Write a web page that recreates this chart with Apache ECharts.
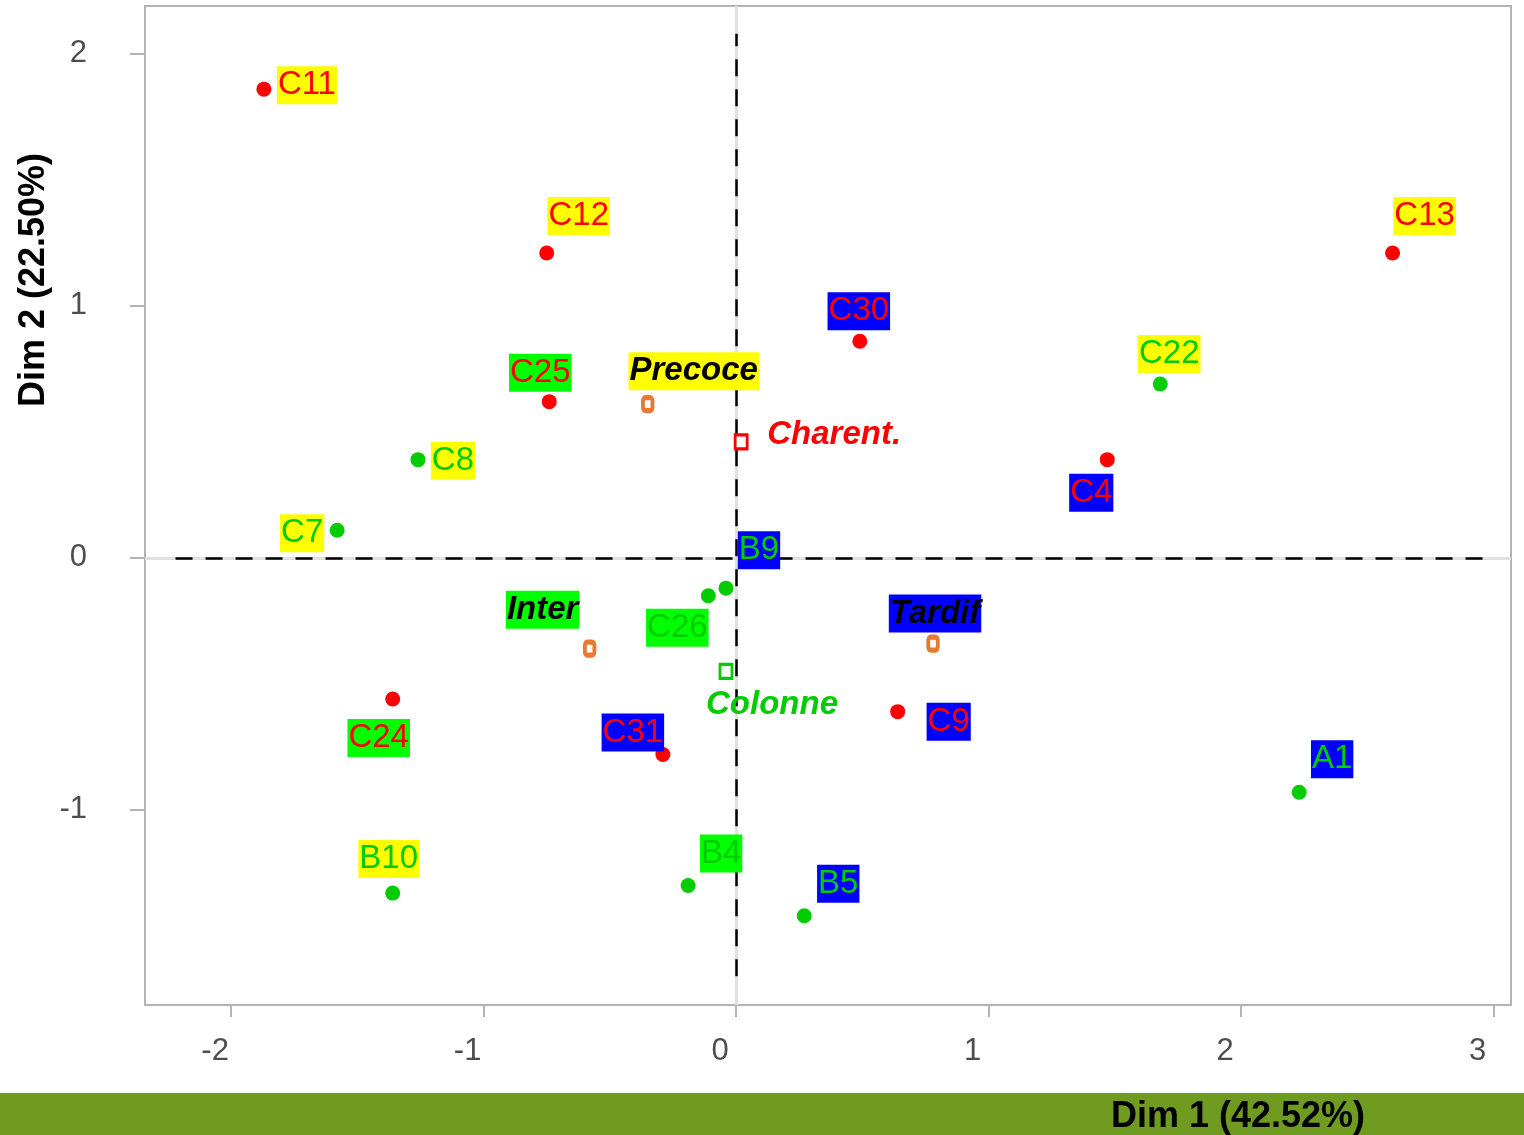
<!DOCTYPE html>
<html>
<head>
<meta charset="utf-8">
<script src="https://cdn.jsdelivr.net/npm/echarts@6/dist/echarts.min.js"></script>
<style>
  html, body { margin: 0; padding: 0; background: #fff; }
  #chart { width: 1524px; height: 1135px; }
</style>
</head>
<body>
<div id="chart"></div>
<script>
// individus (points actifs)
const indNames = ['C11', 'C12', 'C13', 'C30', 'C22', 'C25', 'C8', 'C4', 'C7',
                  'B9', 'C26', 'C24', 'C9', 'C31', 'A1', 'B4', 'B5', 'B10'];
const indDim1 = [-1.87, -0.75, 2.60, 0.49, 1.68, -0.74, -1.26, 1.47, -1.58,
                 -0.04, -0.11, -1.36, 0.64, -0.29, 2.23, -0.19, 0.27, -1.36];
const indDim2 = [1.86, 1.21, 1.21, 0.86, 0.69, 0.62, 0.39, 0.39, 0.11,
                 -0.12, -0.15, -0.56, -0.61, -0.78, -0.93, -1.30, -1.42, -1.33];
// origine (couleur du point / texte) et précocité (fond de l'étiquette)
const indOrigine = ['Charent.', 'Charent.', 'Charent.', 'Charent.', 'Colonne', 'Charent.', 'Colonne', 'Charent.', 'Colonne',
                    'Colonne', 'Colonne', 'Charent.', 'Charent.', 'Charent.', 'Colonne', 'Colonne', 'Colonne', 'Colonne'];
const indPrecocite = ['Precoce', 'Precoce', 'Precoce', 'Tardif', 'Precoce', 'Inter', 'Precoce', 'Tardif', 'Precoce',
                      'Tardif', 'Inter', 'Inter', 'Tardif', 'Tardif', 'Tardif', 'Inter', 'Tardif', 'Precoce'];

// modalités supplémentaires
const suppNames = ['Precoce', 'Charent.', 'Inter', 'Colonne', 'Tardif'];
const suppDim1 = [-0.35, 0.02, -0.58, -0.04, 0.78];
const suppDim2 = [0.61, 0.46, -0.36, -0.45, -0.34];

// étendue des lignes pointillées
const refX = [-2.22, 2.98];
const refY = [-1.66, 2.08];

// couleurs
const couleurOrigine = { 'Charent.': '#ff0000', 'Colonne': '#00cc00' };
const fondPrecocite = { 'Precoce': '#ffff00', 'Inter': '#00ff00', 'Tardif': '#0000ff' };

// décalage des étiquettes (style repel), en pixels
const decalage = {
  C11: [43, -4], C12: [32, -37], C13: [32, -37], C30: [-1, -30], C22: [9, -30],
  C25: [-9, -29], C8: [35, 1], C4: [-16, 33], C7: [-35, 3], B9: [33, -38],
  C26: [-31, 32], C24: [-14, 39], C9: [51, 10], C31: [-30, -22], A1: [33, -33],
  B4: [33, -32], B5: [34, -32], B10: [-4, -34],
  Precoce: [46, -33], 'Charent.': [93, -7], Inter: [-47, -39], Colonne: [46, 34], Tardif: [2, -30]
};

const fontFam = '"Liberation Sans", Arial, Helvetica, sans-serif';

const indData = indNames.map((n, i) => ({
  name: n,
  value: [indDim1[i], indDim2[i]],
  itemStyle: { color: couleurOrigine[indOrigine[i]], opacity: 1 },
  label: {
    offset: decalage[n],
    color: couleurOrigine[indOrigine[i]],
    backgroundColor: fondPrecocite[indPrecocite[i]]
  }
}));

const suppData = suppNames.map((n, i) => {
  const isOrigine = couleurOrigine[n] !== undefined;
  return {
    name: n,
    value: [suppDim1[i], suppDim2[i]],
    symbol: isOrigine ? 'rect' : 'roundRect',
    symbolSize: isOrigine ? [12, 14] : [9.5, 13],
    itemStyle: {
      color: '#ffffff',
      opacity: 1,
      borderColor: isOrigine ? couleurOrigine[n] : '#e8792e',
      borderWidth: isOrigine ? 3 : 4.5
    },
    label: {
      offset: decalage[n],
      color: isOrigine ? couleurOrigine[n] : '#000000',
      backgroundColor: isOrigine ? 'transparent' : fondPrecocite[n],
      fontWeight: 'bold',
      fontStyle: 'italic'
    }
  };
});

const chart = echarts.init(document.getElementById('chart'));

const etiquette = {
  show: true,
  position: 'inside',
  formatter: '{b}',
  fontSize: 33,
  fontFamily: fontFam,
  lineHeight: 34,
  padding: [2, 1, 2, 1],
  align: 'center',
  verticalAlign: 'middle'
};

const option = {
  backgroundColor: '#ffffff',
  animation: false,
  grid: {
    left: 145, right: 13, top: 6, bottom: 130,
    show: true, borderColor: '#b3b3b3', borderWidth: 2, backgroundColor: '#ffffff'
  },
  xAxis: {
    type: 'value',
    min: -2.341, max: 3.069,
    axisLine: { show: false, onZero: false },
    splitLine: { show: false },
    axisTick: { show: true, customValues: [-2, -1, 0, 1, 2, 3], length: 12, lineStyle: { color: '#b3b3b3', width: 2 } },
    axisLabel: {
      customValues: [-2, -1, 0, 1, 2, 3],
      color: '#4d4d4d', fontSize: 31, fontFamily: fontFam, margin: 31,
      padding: [0, 32, 0, 0]
    }
  },
  yAxis: {
    type: 'value',
    min: -1.774, max: 2.19,
    axisLine: { show: false, onZero: false },
    splitLine: { show: false },
    axisTick: { show: true, customValues: [-1, 0, 1, 2], length: 15, lineStyle: { color: '#b3b3b3', width: 2 } },
    axisLabel: {
      customValues: [-1, 0, 1, 2],
      color: '#4d4d4d', fontSize: 31, fontFamily: fontFam, margin: 58
    }
  },
  graphic: [
    { type: 'rect', left: 0, top: 1093, shape: { width: 1524, height: 42 }, style: { fill: '#6f9c20' }, z: 10 },
    {
      type: 'text', x: 1238, y: 1117, z: 11,
      style: { text: 'Dim 1 (42.52%)', font: 'bold 36px ' + fontFam, fill: '#000', align: 'center', verticalAlign: 'middle' }
    },
    {
      type: 'text', x: 34, y: 280, rotation: Math.PI / 2, z: 11,
      style: { text: 'Dim 2 (22.50%)', font: 'bold 36px ' + fontFam, fill: '#000', align: 'center', verticalAlign: 'middle' }
    }
  ],
  series: [
    {
      type: 'scatter',
      data: [],
      silent: true,
      z: 1,
      markLine: {
        silent: true,
        z: 1,
        symbol: 'none',
        label: { show: false },
        animation: false,
        data: [
          { xAxis: 0, lineStyle: { color: '#e0e0e0', width: 3, type: 'solid' } },
          { yAxis: 0, lineStyle: { color: '#e0e0e0', width: 3, type: 'solid' } },
          [{ coord: [0, refY[0]] }, { coord: [0, refY[1]], lineStyle: { color: '#000', width: 2.5, type: [17, 13] } }],
          [{ coord: [refX[0], 0] }, { coord: [refX[1], 0], lineStyle: { color: '#000', width: 2.5, type: [17, 13] } }]
        ]
      }
    },
    {
      name: 'individus',
      type: 'scatter',
      symbol: 'circle',
      symbolSize: 15,
      data: indData,
      label: etiquette,
      z: 3
    },
    {
      name: 'supplementaires',
      type: 'scatter',
      data: suppData,
      label: etiquette,
      z: 4
    }
  ]
};

chart.setOption(option);
</script>
</body>
</html>
